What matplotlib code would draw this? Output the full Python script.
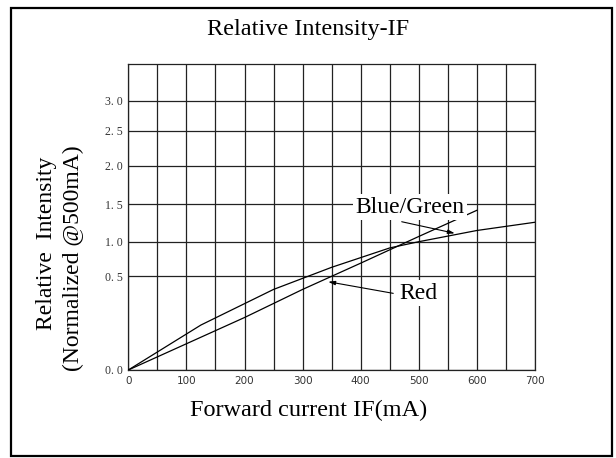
import numpy as np
import matplotlib
matplotlib.use("Agg")
import matplotlib.pyplot as plt
from matplotlib.patches import Rectangle

# ---- data ----
current_ma = [0, 125, 250, 350, 450, 500, 600, 700]
blue_green = [0.0, 0.24, 0.43, 0.63, 0.91, 1.0, 1.15, 1.26]

red_ma = [0, 100, 200, 300, 400, 500, 600]
red = [0.0, 0.14, 0.28, 0.43, 0.69, 1.07, 1.42]

x_ticks = [0, 100, 200, 300, 400, 500, 600, 700]
y_ticks = [0.0, 0.5, 1.0, 1.5, 2.0, 2.5, 3.0]
y_tick_labels = ["0. 0", "0. 5", "1. 0", "1. 5", "2. 0", "2. 5", "3. 0"]

# non-uniform vertical scale of the original drawing (value -> relative height)
scale_vals = [0.0, 0.5, 1.0, 1.5, 2.0, 2.5, 3.0, 3.5]
scale_pos = [0.0, 93.7, 128.3, 165.7, 204.3, 239.3, 269.3, 306.0]


def fwd(v):
    return np.interp(v, scale_vals, scale_pos)


def inv(p):
    return np.interp(p, scale_pos, scale_vals)


fig = plt.figure(figsize=(6.16, 4.58), dpi=100)
fig.patch.set_facecolor("white")

# outer frame
fig.patches.append(Rectangle((11 / 616, 2 / 458), 601 / 616, 448 / 458,
                             transform=fig.transFigure, fill=False,
                             edgecolor="black", linewidth=1.6))

ax = fig.add_axes([128.3 / 616, (458 - 370) / 458, (535 - 128.3) / 616, (370 - 64) / 458])
ax.set_yscale("function", functions=(fwd, inv))
ax.set_xlim(0, 700)
ax.set_ylim(0, 3.5)

lc = "#222222"
for xv in range(0, 701, 50):
    ax.axvline(xv, color=lc, lw=0.9, zorder=1)
for yv in y_ticks:
    ax.axhline(yv, color=lc, lw=0.9, zorder=1)
for s in ax.spines.values():
    s.set_color(lc)
    s.set_linewidth(0.9)

ax.plot(current_ma, blue_green, color="black", lw=0.9, zorder=3)
ax.plot(red_ma, red, color="black", lw=0.9, zorder=3)

ax.set_xticks(x_ticks)
ax.set_xticklabels([str(v) for v in x_ticks], fontfamily="DejaVu Sans",
                   fontsize=7.5, color="#333333")
ax.set_yticks(y_ticks)
ax.set_yticklabels(y_tick_labels, fontfamily="Liberation Serif",
                   fontsize=8.5, color="#333333")
ax.yaxis.set_minor_locator(matplotlib.ticker.NullLocator())
ax.tick_params(length=0, pad=4)

# labels
serif = "Liberation Serif"
fig.text(308 / 616, 1 - 29 / 458, "Relative Intensity-IF", ha="center", va="center",
         fontfamily=serif, fontsize=17.5)
fig.text(309 / 616, 1 - 410 / 458, "Forward current IF(mA)", ha="center", va="center",
         fontfamily=serif, fontsize=17.5)
fig.text(47 / 616, 1 - 243 / 458, "Relative  Intensity", ha="center", va="center",
         rotation=90, fontfamily=serif, fontsize=17)
fig.text(73 / 616, 1 - 258 / 458, "(Normalized @500mA)", ha="center", va="center",
         rotation=90, fontfamily=serif, fontsize=17)

# curve labels with arrows
ax.text(485, 1.46, "Blue/Green", ha="center", va="center", fontfamily=serif,
        fontsize=17, zorder=4,
        bbox=dict(boxstyle="square,pad=0.1", facecolor="white", edgecolor="none"))
ax.annotate("", xy=(562, 1.112), xytext=(470.6, 1.267),
            arrowprops=dict(arrowstyle="-|>,head_length=0.4,head_width=0.12",
                            color="black", lw=0.8, shrinkA=0, shrinkB=0), zorder=5)

ax.text(500, 0.41, "Red", ha="center", va="center", fontfamily=serif,
        fontsize=17, zorder=4,
        bbox=dict(boxstyle="square,pad=0.1", facecolor="white", edgecolor="none"))
ax.annotate("", xy=(344, 0.471), xytext=(456, 0.409),
            arrowprops=dict(arrowstyle="-|>,head_length=0.4,head_width=0.12",
                            color="black", lw=0.8, shrinkA=0, shrinkB=0), zorder=5)

fig.savefig("out.png", dpi=100)
